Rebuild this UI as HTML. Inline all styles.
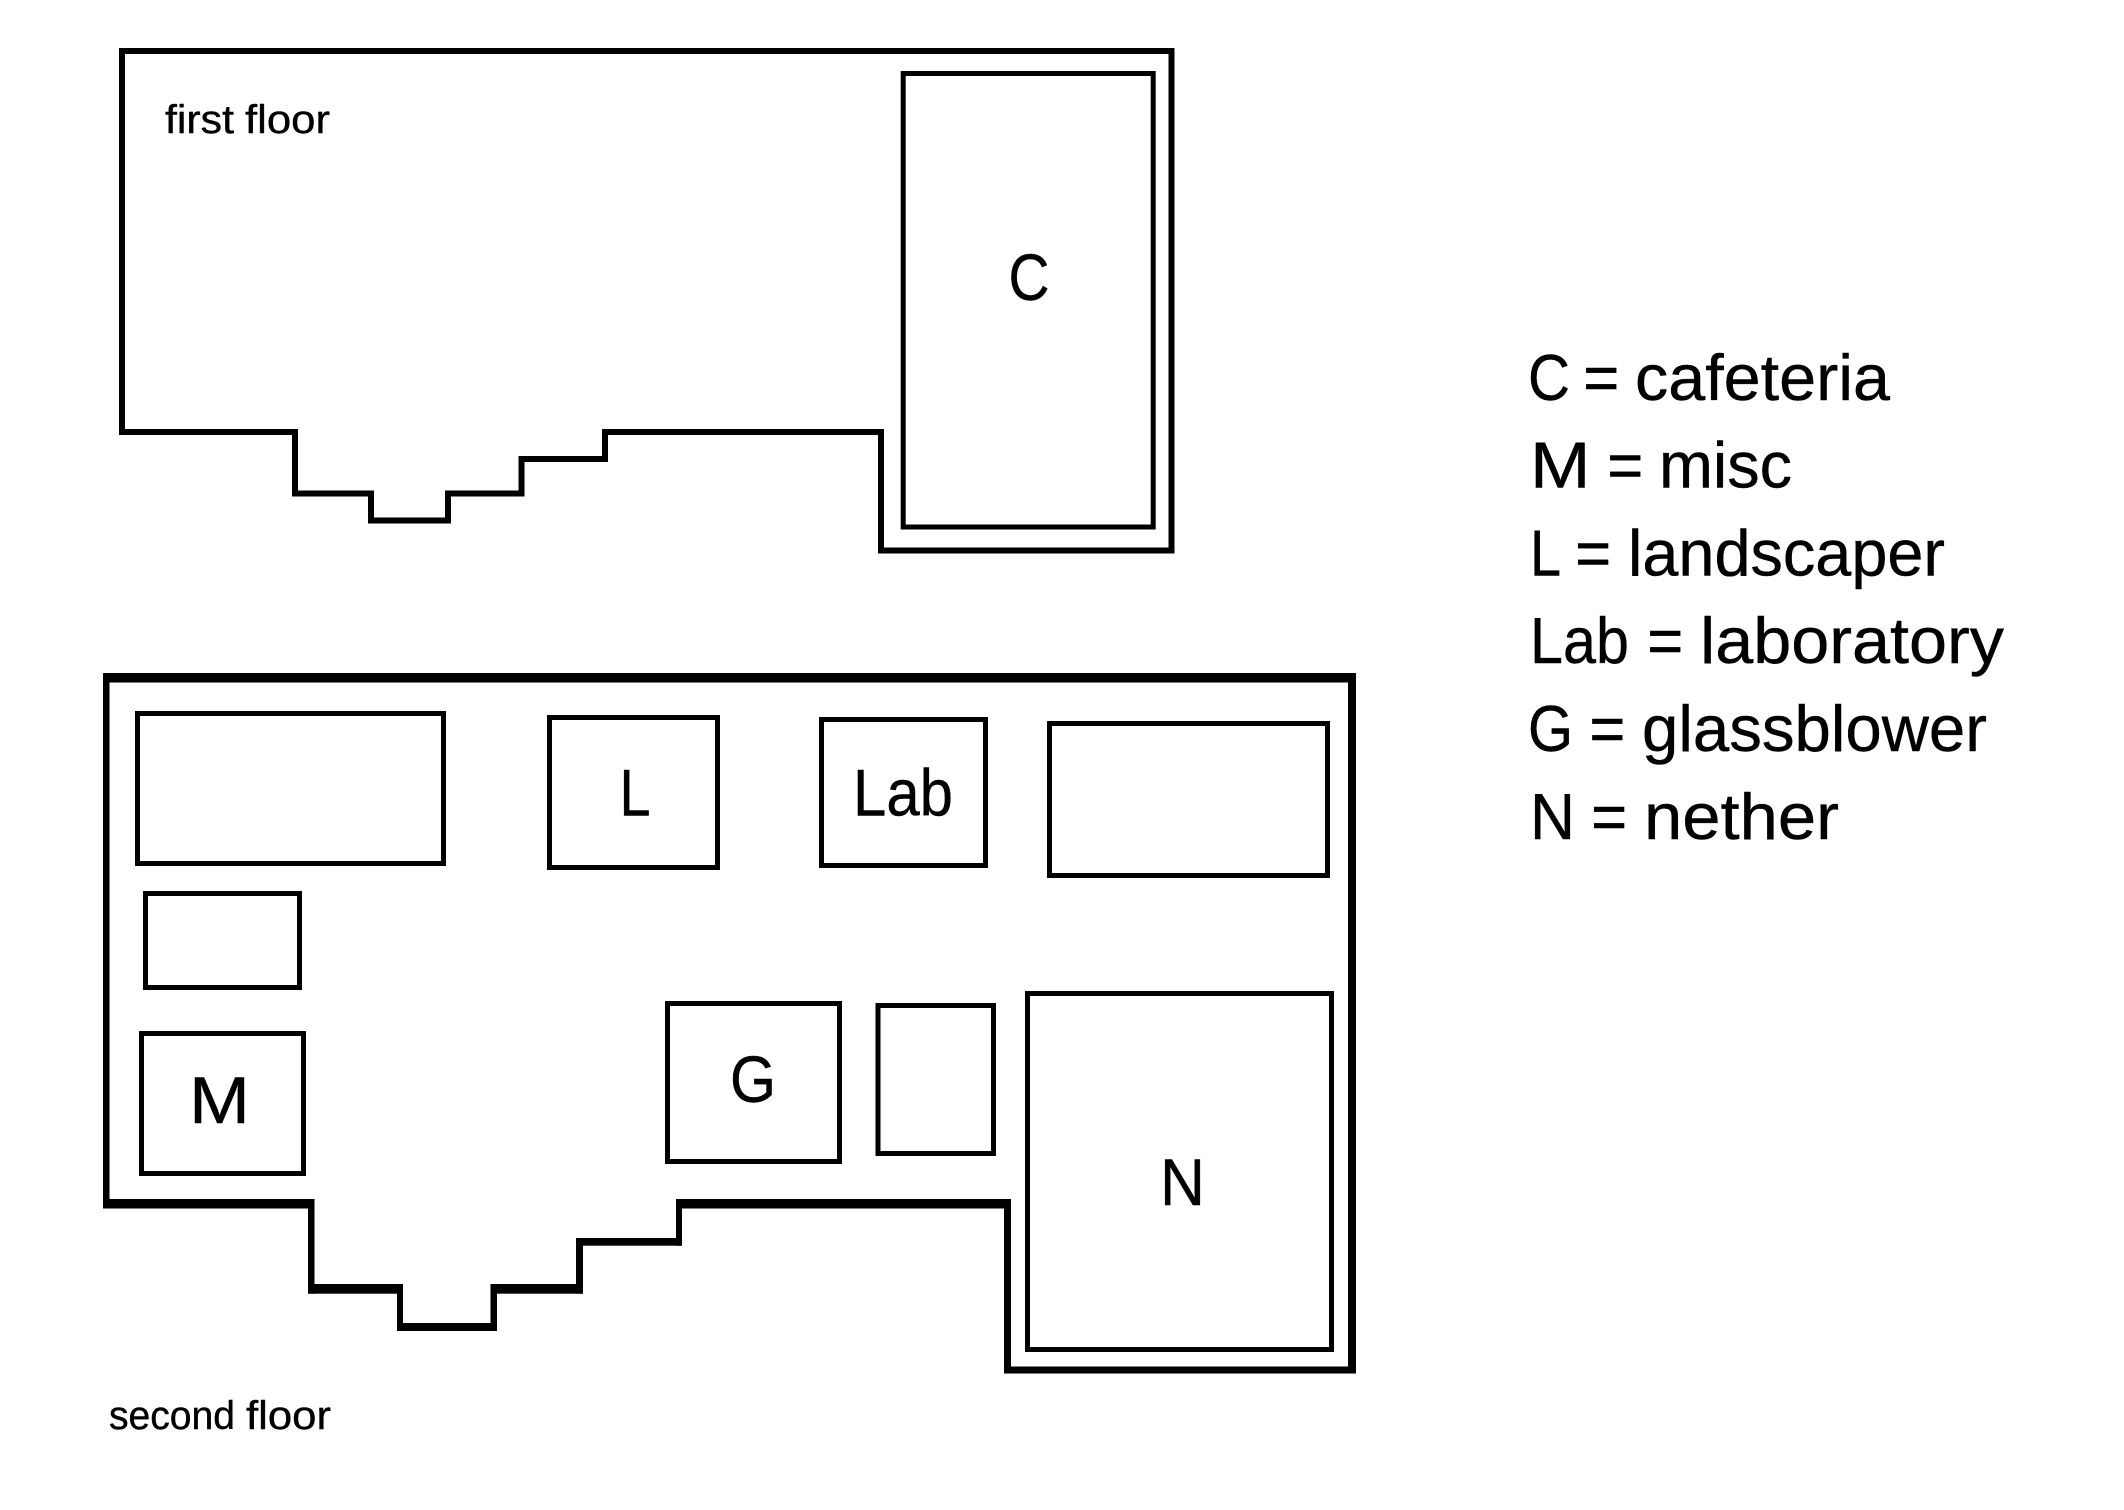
<!DOCTYPE html>
<html><head><meta charset="utf-8"><style>
html,body{margin:0;padding:0;background:#fff}
svg{display:block}
text{font-family:"Liberation Sans",sans-serif;fill:#000;stroke:#000;stroke-width:.4}
</style></head><body>
<svg width="2124" height="1510" viewBox="0 0 2124 1510" xmlns="http://www.w3.org/2000/svg">
<rect width="2124" height="1510" fill="#fff"/>
<g fill="none" stroke="#000" stroke-width="6" stroke-linejoin="miter">
<path d="M122 51H1171.500V550.500H881V432H605V459H521.500V493.500H448V520.500H371V493.500H295V432H122Z"/>
<rect x="903.200" y="73.500" width="250" height="453.500" stroke-width="5"/>
</g>
<g fill="#000">
<rect x="103" y="673" width="1253" height="9.500"/>
<rect x="103" y="673" width="6.500" height="535.500"/>
<rect x="103" y="1199" width="211.500" height="9.500"/>
<rect x="308" y="1199" width="6.500" height="94.700"/>
<rect x="308" y="1284" width="95" height="9.700"/>
<rect x="397" y="1284" width="6" height="47"/>
<rect x="397" y="1323" width="100" height="8"/>
<rect x="490.500" y="1284" width="6.500" height="47"/>
<rect x="490.500" y="1284" width="92.500" height="9.700"/>
<rect x="576" y="1238" width="7" height="55.700"/>
<rect x="576" y="1238" width="106" height="7.700"/>
<rect x="676" y="1199" width="6" height="46.700"/>
<rect x="676" y="1199" width="335" height="9.500"/>
<rect x="1004" y="1199" width="7" height="174.500"/>
<rect x="1004" y="1366.500" width="352" height="7"/>
<rect x="1348" y="673" width="8" height="700.500"/>
</g>
<g fill="none" stroke="#000" stroke-width="5">
<rect x="137.500" y="713.500" width="306" height="150"/>
<rect x="549.500" y="717.500" width="168" height="150"/>
<rect x="145.500" y="893.500" width="154" height="94"/>
<rect x="141.500" y="1033.500" width="162" height="140"/>
<rect x="667.500" y="1003.500" width="172" height="158"/>
<rect x="821.500" y="719.500" width="164" height="146"/>
<rect x="1049.500" y="723.500" width="278" height="152"/>
<rect x="878" y="1005.500" width="115.500" height="148"/>
<rect x="1027.500" y="993.500" width="304" height="356"/>
</g>
<g font-size="40">
<text x="165" y="133" textLength="69" lengthAdjust="spacingAndGlyphs">first</text>
<text x="245" y="133" textLength="85" lengthAdjust="spacingAndGlyphs">floor</text>
<text x="109" y="1429" textLength="126" lengthAdjust="spacingAndGlyphs">second</text>
<text x="246" y="1429" textLength="85" lengthAdjust="spacingAndGlyphs">floor</text>
</g>
<g font-size="66">
<text x="1008.500" y="300" textLength="41" lengthAdjust="spacingAndGlyphs">C</text>
<text x="619.500" y="815.500" textLength="31" lengthAdjust="spacingAndGlyphs">L</text>
<text x="853" y="815.500" textLength="100" lengthAdjust="spacingAndGlyphs">Lab</text>
<text x="189" y="1123" textLength="61" lengthAdjust="spacingAndGlyphs">M</text>
<text x="730" y="1102" textLength="46" lengthAdjust="spacingAndGlyphs">G</text>
<text x="1160" y="1205" textLength="45" lengthAdjust="spacingAndGlyphs">N</text>
</g>
<g font-size="65">
<text x="1528" y="400" textLength="42" lengthAdjust="spacingAndGlyphs">C</text>
<text x="1583.300" y="400" textLength="36" lengthAdjust="spacingAndGlyphs">=</text>
<text x="1635" y="400" textLength="255" lengthAdjust="spacingAndGlyphs">cafeteria</text>

<text x="1530" y="487.500" textLength="60.500" lengthAdjust="spacingAndGlyphs">M</text>
<text x="1607.200" y="487.500" textLength="36" lengthAdjust="spacingAndGlyphs">=</text>
<text x="1659" y="487.500" textLength="133" lengthAdjust="spacingAndGlyphs">misc</text>

<text x="1530" y="575.500" textLength="31" lengthAdjust="spacingAndGlyphs">L</text>
<text x="1575.100" y="575.500" textLength="36" lengthAdjust="spacingAndGlyphs">=</text>
<text x="1628" y="575.500" textLength="317" lengthAdjust="spacingAndGlyphs">landscaper</text>

<text x="1530" y="663" textLength="99" lengthAdjust="spacingAndGlyphs">Lab</text>
<text x="1647.200" y="663" textLength="36" lengthAdjust="spacingAndGlyphs">=</text>
<text x="1700" y="663" textLength="304" lengthAdjust="spacingAndGlyphs">laboratory</text>

<text x="1528" y="751" textLength="45" lengthAdjust="spacingAndGlyphs">G</text>
<text x="1589.400" y="751" textLength="36" lengthAdjust="spacingAndGlyphs">=</text>
<text x="1642" y="751" textLength="345" lengthAdjust="spacingAndGlyphs">glassblower</text>

<text x="1530" y="839" textLength="45" lengthAdjust="spacingAndGlyphs">N</text>
<text x="1591.100" y="839" textLength="36" lengthAdjust="spacingAndGlyphs">=</text>
<text x="1644" y="839" textLength="195" lengthAdjust="spacingAndGlyphs">nether</text>
</g>
</svg>
</body></html>
